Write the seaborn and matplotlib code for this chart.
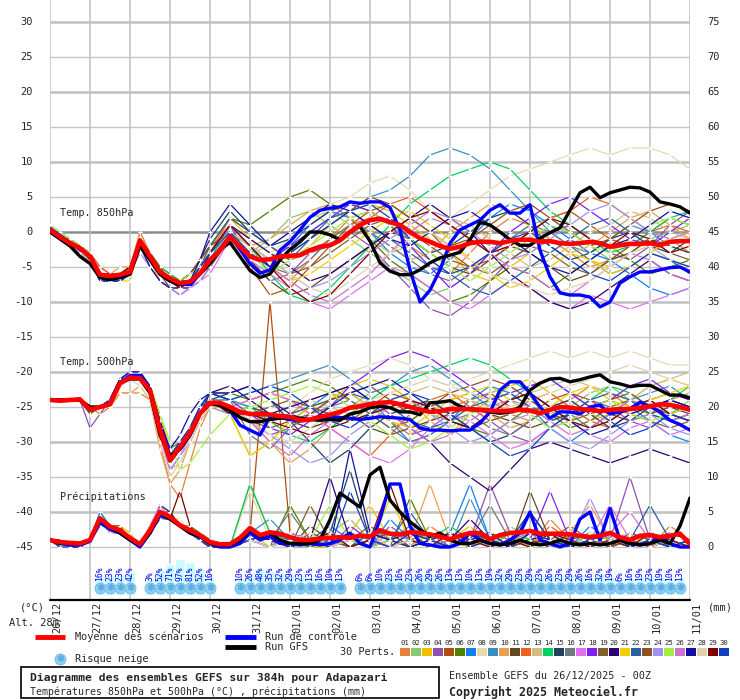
import pandas as pd
import numpy as np
import matplotlib
matplotlib.use("Agg")
import matplotlib.pyplot as plt
import seaborn as sns
from matplotlib.patches import Rectangle


# time axes (hours after 26/12 00Z)
hours = list(range(0, 385, 6))
hours_m = list(range(0, 97, 6)) + list(range(108, 385, 12))

date_labels = ['26/12', '27/12', '28/12', '29/12', '30/12', '31/12', '01/01', '02/01', '03/01',
               '04/01', '05/01', '06/01', '07/01', '08/01', '09/01', '10/01', '11/01']

pert_colors = ['#e8803a', '#88c870', '#f0c000', '#9050b0', '#b05010', '#508000', '#1080f0', '#e8d8b0',
               '#3890c0', '#e8a050', '#604820', '#f06020', '#d0c080', '#00d060', '#204060', '#707880',
               '#e070f0', '#8020f0', '#806030', '#300070', '#f0d000', '#2860a0', '#905020', '#a090f0',
               '#a0f040', '#d070d0', '#1010a0', '#e0d0b0', '#800000', '#1040c0']

# mean / control / GFS, every 6h
mean_850 = [0.3, -0.7, -1.6, -2.3, -3.5, -6.1, -6.3, -6.1, -5.7, -1.2,
            -3.5, -5.7, -6.6, -7.3, -7.1, -5.9, -4.0, -2.6, -0.7, -2.1,
            -3.5, -4.0, -3.9, -3.5, -3.4, -3.3, -2.6, -2.1, -1.9, -1.2,
            0.0, 1.0, 1.7, 1.9, 1.4, 1.0, 0.0, -0.9, -1.4, -2.0,
            -2.4, -2.1, -1.6, -1.4, -1.4, -1.6, -1.3, -1.1, -1.1, -1.4,
            -1.3, -1.6, -1.7, -1.6, -1.4, -1.6, -2.1, -1.9, -1.7, -1.7,
            -1.6, -1.9, -1.4, -1.3, -1.3]
ctrl_850 = [0.5, -0.5, -1.5, -2.5, -3.5, -6.5, -6.8, -6.5, -6.0, -1.5,
            -3.8, -6.0, -7.0, -7.5, -7.5, -6.0, -4.0, -2.5, -0.5, -2.5,
            -4.5, -5.9, -5.4, -2.6, -1.4, 0.3, 2.1, 3.1, 3.4, 3.6,
            4.3, 4.1, 4.3, 4.3, 3.5, 0.3, -5.4, -10.0, -8.3, -5.4,
            -1.6, 0.3, 1.0, 1.7, 3.1, 3.9, 2.7, 2.7, 3.9, -2.6,
            -6.4, -8.7, -9.0, -9.0, -9.3, -10.7, -10.0, -7.3, -6.4, -5.7,
            -5.7, -5.4, -5.1, -5.0, -5.7]
gfs_850 = [0.0, -1.0, -2.0, -3.5, -4.5, -6.5, -6.8, -6.5, -6.0, -2.0,
           -4.0, -6.0, -7.0, -7.5, -7.0, -6.0, -4.5, -2.5, -1.5, -3.5,
           -5.5, -6.5, -6.0, -4.0, -2.5, -1.4, 0.0, 0.0, -0.4, -1.1,
           0.0, 0.8, -1.3, -4.4, -5.6, -6.1, -6.1, -5.4, -4.4, -3.7,
           -3.3, -2.9, -1.1, 1.4, 1.0, 0.0, -1.1, -1.9, -1.9, -0.9,
           -0.1, 0.6, 3.1, 5.6, 6.4, 4.9, 5.6, 6.0, 6.4, 6.3,
           5.7, 4.3, 4.0, 3.6, 2.7]

mean_500 = [-24.0, -24.1, -24.0, -23.9, -25.4, -25.0, -24.6, -21.6, -20.8, -20.9,
            -22.6, -28.3, -32.6, -30.7, -28.7, -25.9, -24.4, -24.4, -25.0, -25.7,
            -26.0, -26.0, -26.1, -26.3, -26.4, -26.9, -26.8, -26.4, -26.1, -25.7,
            -25.1, -24.9, -24.6, -24.4, -24.3, -24.6, -25.0, -25.4, -25.7, -25.6,
            -25.3, -25.3, -25.3, -25.4, -25.5, -25.6, -25.5, -25.4, -25.5, -25.9,
            -25.4, -25.0, -25.1, -25.3, -25.4, -25.6, -25.4, -25.3, -25.3, -25.1,
            -24.9, -24.6, -24.7, -25.0, -25.4]
ctrl_500 = [-24.0, -24.0, -24.0, -24.0, -25.5, -25.0, -24.5, -21.5, -20.5, -20.5,
            -22.5, -28.0, -32.0, -31.0, -29.0, -26.0, -24.5, -24.5, -25.5, -27.6,
            -28.3, -29.0, -26.4, -26.5, -26.8, -27.0, -26.8, -26.5, -26.4, -26.5,
            -26.6, -26.8, -26.6, -26.4, -26.5, -26.6, -26.8, -28.0, -28.3, -28.3,
            -28.4, -28.3, -28.3, -27.3, -25.7, -22.6, -21.4, -21.4, -23.0, -25.0,
            -26.6, -25.7, -25.7, -26.0, -25.0, -24.7, -26.0, -25.7, -25.3, -24.3,
            -24.9, -25.7, -26.9, -27.5, -28.3]
gfs_500 = [-24.0, -24.0, -24.0, -24.0, -25.0, -25.0, -24.5, -21.5, -21.0, -21.0,
           -23.0, -29.0, -32.0, -31.0, -29.0, -26.0, -24.5, -24.8, -25.5, -26.5,
           -27.1, -27.1, -26.8, -26.6, -26.5, -26.6, -26.8, -26.9, -26.8, -26.9,
           -26.0, -25.7, -25.1, -24.9, -25.1, -25.7, -25.7, -26.1, -24.4, -24.3,
           -24.1, -24.9, -25.4, -25.4, -25.7, -25.9, -25.7, -25.0, -22.6, -21.6,
           -21.0, -20.9, -21.4, -21.1, -20.7, -20.4, -21.4, -21.7, -22.1, -21.9,
           -21.9, -22.6, -23.3, -23.3, -23.7]

mean_pr = [1.0, 0.7, 0.6, 0.5, 1.0, 4.1, 2.9, 2.4, 1.3, 0.4,
           2.4, 5.0, 4.3, 3.1, 2.4, 1.7, 0.7, 0.4, 0.4, 1.3,
           2.7, 1.7, 2.1, 1.9, 1.4, 1.0, 1.0, 1.2, 1.3, 1.4,
           1.3, 1.6, 1.5, 2.4, 1.9, 1.8, 2.1, 2.0, 1.8, 1.5,
           1.1, 1.6, 2.0, 2.0, 1.1, 1.7, 2.0, 2.1, 2.3, 1.9,
           1.9, 1.9, 1.8, 1.6, 1.4, 1.6, 2.0, 1.4, 1.0, 1.6,
           1.7, 1.4, 1.6, 1.9, 0.4]
ctrl_pr = [1.0, 0.5, 0.3, 0.3, 0.8, 3.5, 2.5, 2.0, 1.0, 0.0,
           2.0, 4.5, 4.0, 3.0, 2.0, 1.5, 0.5, 0.0, 0.0, 0.5,
           2.0, 1.0, 1.5, 0.5, 0.5, 0.3, 0.5, 0.3, 0.5, 1.0,
           2.0, 0.5, 0.0, 4.0, 9.0, 9.0, 3.0, 0.5, 0.3, 0.0,
           0.0, 0.5, 2.0, 1.0, 0.5, 0.3, 1.0, 2.0, 5.0, 1.0,
           0.5, 0.0, 0.5, 4.0, 5.0, 1.0, 5.5, 1.0, 0.5, 0.3,
           0.5, 1.5, 0.5, 0.0, 0.0]
gfs_pr = [1.0, 0.5, 0.5, 0.5, 1.0, 4.0, 3.0, 2.0, 1.0, 0.3,
          2.0, 5.0, 4.0, 3.0, 2.0, 1.5, 0.5, 0.3, 0.3, 1.0,
          2.5, 1.5, 2.0, 1.0, 0.5, 0.5, 0.5, 1.0, 3.9, 7.7,
          6.7, 5.7, 10.3, 11.4, 6.7, 5.0, 3.6, 2.5, 1.5, 2.0,
          1.0, 0.5, 0.5, 1.0, 0.5, 0.3, 0.5, 1.0, 0.5, 0.3,
          0.5, 1.0, 0.5, 0.3, 0.5, 0.3, 0.5, 1.0, 0.5, 0.3,
          0.5, 1.0, 0.5, 3.0, 7.0]

# 30 perturbations: 6h steps up to 96h, then 12h steps
t850_early = [
    [0, -1, -2, -3, -4, -6, -6, -6, -5, -1, -3, -5, -6, -7, -6, -5, -3],
    [1, 0, -1, -2, -3, -6, -7, -6, -6, -2, -4, -6, -7, -8, -7, -5, -4],
    [0, -1, -2, -2, -4, -6, -6, -7, -6, -1, -4, -6, -7, -7, -6, -4, -2],
    [0, -1, -1, -2, -3, -5, -6, -6, -5, -2, -4, -7, -8, -9, -8, -6, -5],
    [0, -1, -2, -3, -4, -6, -6, -6, -6, 0, -3, -5, -6, -7, -6, -5, -3],
    [0, -1, -2, -2, -4, -6, -7, -7, -6, -1, -4, -6, -7, -8, -7, -5, -2],
    [0, -1, -2, -2, -4, -7, -7, -7, -6, -1, -4, -6, -7, -7, -7, -6, -3],
    [0, -1, -2, -3, -4, -6, -6, -6, -6, -2, -4, -6, -7, -7, -6, -4, -2],
    [0, -1, -2, -2, -3, -6, -6, -6, -5, -1, -3, -6, -7, -7, -7, -5, -3],
    [1, -1, -2, -2, -4, -6, -6, -5, -5, 0, -3, -5, -7, -7, -6, -4, -2],
    [0, -1, -2, -3, -4, -6, -7, -7, -6, -1, -4, -6, -8, -8, -8, -7, -5],
    [0, -1, -2, -2, -3, -5, -6, -6, -6, -1, -4, -6, -7, -7, -6, -5, -3],
    [0, -1, -2, -3, -4, -6, -6, -6, -6, -2, -5, -7, -8, -8, -7, -6, -4],
    [0, -1, -2, -2, -4, -6, -6, -6, -5, -1, -3, -5, -6, -7, -7, -6, -4],
    [0, -1, -1, -2, -4, -6, -6, -6, -6, -1, -4, -6, -7, -7, -6, -4, -1],
    [0, -1, -2, -2, -4, -6, -6, -6, -6, -1, -4, -6, -7, -8, -7, -5, -2],
    [0, -1, -2, -3, -4, -6, -6, -6, -6, -2, -5, -7, -8, -9, -8, -7, -6],
    [0, -1, -2, -2, -4, -6, -6, -6, -6, -1, -4, -6, -7, -8, -8, -6, -3],
    [0, -1, -2, -3, -4, -6, -6, -6, -5, -1, -4, -6, -7, -7, -7, -5, -3],
    [0, -1, -2, -2, -4, -6, -7, -7, -6, -1, -4, -6, -7, -8, -7, -6, -3],
    [0, -1, -2, -2, -4, -7, -7, -7, -7, -2, -4, -7, -8, -8, -7, -6, -4],
    [0, -1, -2, -2, -4, -6, -6, -6, -6, -1, -4, -6, -7, -7, -6, -4, -2],
    [0, -1, -2, -3, -4, -6, -6, -6, -5, -1, -3, -5, -7, -7, -6, -4, -2],
    [0, -1, -2, -2, -4, -6, -6, -6, -6, -3, -5, -7, -8, -9, -8, -7, -5],
    [1, 0, -1, -2, -3, -6, -6, -6, -6, -1, -4, -6, -7, -7, -6, -5, -3],
    [0, -1, -2, -2, -4, -6, -6, -6, -6, -1, -4, -6, -7, -8, -7, -6, -4],
    [0, -1, -2, -2, -4, -7, -7, -7, -6, -2, -5, -7, -8, -8, -7, -4, 0],
    [0, -1, -2, -3, -4, -6, -6, -6, -6, -1, -4, -6, -7, -7, -7, -5, -3],
    [0, -1, -2, -2, -4, -6, -6, -6, -5, -1, -4, -6, -7, -8, -7, -5, -3],
    [0, -1, -2, -2, -4, -7, -7, -7, -6, -1, -4, -6, -7, -7, -7, -5, -3],
]
t850_late = [
    [1, -2, -5, -7, -4, -1, 2, 3, 1, -2, -4, -6, -3, 0, 2, 1, -1, -3, -5, -4, -2, 0, -1, -3],
    [0, -3, -1, 2, 3, 1, -1, -3, -5, -7, -9, -8, -6, -3, -1, 1, 2, 0, -2, -4, -3, -1, 0, 1],
    [2, -1, -3, -4, -2, 1, 3, 4, 3, 1, -1, -3, -6, -7, -5, -3, -1, -2, -4, -5, -3, -2, -1, 0],
    [1, -4, -7, -6, -3, -2, 0, -2, -5, -8, -11, -12, -10, -7, -4, -2, 0, 1, -1, -3, -4, -2, 1, 3],
    [0, -5, -9, -8, -5, -2, 1, 3, 4, 2, 0, -3, -5, -4, -2, 0, 2, 3, 1, -1, -2, 0, 2, 1],
    [2, 1, 3, 5, 6, 4, 2, -1, -4, -6, -8, -10, -9, -7, -5, -6, -8, -6, -4, -2, -4, -6, -5, -4],
    [0, -2, -4, -2, 1, 3, 2, 0, -3, -5, -6, -4, -1, 2, 4, 3, 1, -1, -3, -4, -6, -8, -9, -8],
    [1, -1, -3, -1, 2, 4, 5, 7, 8, 6, 3, 2, 4, 6, 8, 9, 10, 11, 12, 11, 12, 12, 11, 9],
    [-1, -3, -5, -3, 0, 2, 3, 5, 6, 8, 11, 12, 11, 9, 6, 3, 0, -2, -3, -1, 1, 0, -2, -3],
    [1, -2, -1, 1, 3, 4, 2, 0, -2, -4, -3, 0, 2, 4, 3, 1, -1, -3, -2, 0, 2, 3, 1, -1],
    [-1, -4, -7, -9, -8, -6, -4, -2, 0, -1, -3, -5, -6, -4, -2, -3, -5, -7, -6, -4, -3, -1, -2, -3],
    [2, 0, -2, -4, -3, -1, 1, 2, 4, 5, 3, 1, -1, -3, -2, 0, 2, 3, 5, 4, 2, 0, 1, 0],
    [0, -3, -2, 0, 2, 3, 1, -1, -3, -2, 0, 2, 1, -1, -3, -5, -4, -2, 0, 1, 3, 2, 0, -1],
    [1, -2, -6, -9, -10, -8, -5, -2, 1, 4, 6, 8, 9, 10, 9, 6, 3, 1, -1, -3, -2, 0, 2, 3],
    [3, 0, -2, -1, 1, 3, 4, 3, 1, -1, -3, -2, 0, 2, 3, 1, -2, -4, -3, -1, 0, -2, -3, -1],
    [0, -3, -5, -6, -4, -1, 1, 0, -2, -4, -6, -7, -5, -3, -1, 1, 0, -2, -4, -6, -5, -3, -4, -5],
    [-1, -4, -6, -8, -10, -11, -9, -7, -5, -6, -8, -10, -11, -9, -7, -8, -10, -11, -9, -10, -11, -10, -9, -8],
    [1, -2, -4, -2, 0, 2, 4, 3, 1, -2, -5, -8, -6, -3, 0, 2, 4, 5, 3, 1, -1, -2, 0, 2],
    [0, -2, -4, -6, -5, -3, -1, 1, 2, 0, -2, -4, -5, -6, -4, -2, -3, -5, -6, -4, -2, -1, -3, -4],
    [1, -1, -3, -5, -7, -6, -4, -2, 0, 2, 4, 2, 0, -3, -6, -8, -10, -11, -10, -8, -6, -4, -6, -7],
    [0, -3, -5, -7, -6, -4, -2, 0, 2, 3, 1, -1, -4, -6, -8, -7, -5, -3, -4, -6, -5, -3, -1, 0],
    [2, 0, -2, -4, -1, 2, 3, 1, -1, -3, -5, -6, -8, -9, -7, -5, -3, -1, 1, 2, 0, -2, -4, -6],
    [0, -2, -5, -3, -1, 1, 3, 5, 4, 2, 0, -2, -1, 1, 3, 4, 2, 0, -2, -1, 1, 3, 4, 3],
    [1, -2, -4, -6, -8, -7, -5, -3, -1, 1, 3, 2, 0, -2, -4, -3, -1, 1, 3, 4, 2, 0, -1, 0],
    [0, -3, -6, -4, -2, 0, 2, 3, 1, -1, -3, -5, -7, -5, -3, -1, 1, 0, -2, -3, -1, 1, 2, 1],
    [-1, -3, -5, -7, -9, -10, -8, -6, -3, 0, 2, 1, -1, -3, -5, -6, -8, -9, -7, -5, -3, -4, -6, -7],
    [4, 1, -2, 0, 2, 4, 3, 1, -1, -2, 0, 2, 3, 1, -1, -3, -5, -6, -4, -2, -1, 1, 3, 2],
    [0, -2, -4, -6, -8, -9, -7, -5, -3, -1, 0, -2, -4, -6, -7, -8, -9, -8, -7, -5, -3, -2, -4, -5],
    [1, -2, -5, -8, -10, -9, -6, -3, 0, 2, 3, 1, -1, -3, -2, 0, 2, 1, -1, -2, 0, -1, -3, -2],
    [0, -3, -5, -3, -1, 1, 3, 4, 2, -1, -4, -6, -5, -3, -1, 0, -2, -4, -6, -7, -5, -3, -4, -5],
]

t500_early = [
    [-24, -24, -24, -24, -25, -26, -25, -23, -23, -23, -24, -30, -36, -38, -33, -28, -25],
    [-24, -24, -24, -24, -26, -25, -24, -21, -21, -21, -23, -27, -32, -30, -28, -26, -24],
    [-24, -24, -24, -24, -25, -25, -24, -21, -21, -21, -22, -26, -31, -30, -28, -26, -24],
    [-24, -24, -24, -24, -28, -26, -24, -21, -20, -20, -22, -29, -33, -31, -29, -26, -24],
    [-24, -24, -24, -24, -25, -25, -24, -21, -21, -21, -22, -27, -32, -31, -29, -26, -24],
    [-24, -24, -24, -24, -26, -25, -24, -21, -21, -21, -23, -28, -32, -30, -28, -25, -23],
    [-24, -24, -24, -24, -25, -25, -24, -21, -20, -20, -22, -28, -33, -31, -28, -25, -23],
    [-24, -24, -24, -24, -25, -25, -24, -22, -21, -21, -23, -29, -34, -32, -29, -26, -24],
    [-24, -24, -24, -24, -25, -25, -24, -21, -21, -21, -23, -28, -33, -31, -28, -25, -24],
    [-24, -24, -24, -24, -25, -25, -25, -23, -23, -22, -24, -31, -36, -34, -30, -27, -25],
    [-24, -24, -24, -24, -25, -25, -24, -21, -21, -21, -22, -27, -32, -31, -29, -26, -24],
    [-24, -24, -24, -24, -25, -25, -24, -21, -21, -21, -23, -28, -33, -31, -29, -26, -24],
    [-24, -24, -24, -24, -25, -25, -24, -22, -21, -21, -23, -29, -34, -33, -30, -27, -25],
    [-24, -24, -24, -24, -25, -25, -24, -21, -21, -21, -22, -27, -32, -31, -28, -25, -23],
    [-24, -24, -24, -24, -25, -25, -24, -21, -21, -21, -23, -28, -33, -31, -28, -25, -24],
    [-24, -24, -24, -24, -25, -25, -24, -21, -21, -21, -22, -27, -31, -30, -28, -25, -23],
    [-24, -24, -24, -24, -25, -25, -24, -21, -20, -20, -22, -29, -34, -32, -29, -26, -24],
    [-24, -24, -24, -24, -25, -25, -24, -21, -21, -21, -22, -27, -32, -30, -28, -25, -23],
    [-24, -24, -24, -24, -25, -25, -24, -21, -21, -21, -23, -28, -33, -31, -29, -26, -24],
    [-24, -24, -24, -24, -25, -25, -24, -21, -21, -21, -22, -28, -33, -31, -29, -26, -23],
    [-24, -24, -24, -24, -25, -25, -24, -21, -21, -21, -23, -28, -33, -31, -29, -27, -25],
    [-24, -24, -24, -24, -25, -25, -24, -21, -21, -21, -23, -28, -33, -31, -28, -25, -24],
    [-24, -24, -24, -24, -25, -25, -24, -21, -21, -21, -22, -28, -33, -31, -29, -26, -24],
    [-24, -24, -24, -24, -25, -25, -24, -22, -21, -21, -23, -29, -34, -32, -30, -27, -25],
    [-24, -24, -24, -24, -25, -25, -24, -21, -21, -21, -22, -26, -30, -34, -33, -31, -29],
    [-24, -24, -24, -24, -25, -25, -24, -21, -21, -21, -23, -28, -33, -31, -29, -26, -24],
    [-24, -24, -24, -24, -25, -25, -24, -21, -20, -20, -22, -27, -31, -29, -26, -24, -23],
    [-24, -24, -24, -24, -25, -25, -24, -22, -21, -22, -24, -30, -35, -33, -30, -27, -25],
    [-24, -24, -24, -24, -25, -25, -24, -21, -21, -21, -23, -28, -33, -31, -29, -26, -24],
    [-24, -24, -24, -24, -25, -25, -24, -21, -21, -21, -23, -28, -32, -30, -28, -25, -23],
]
t500_late = [
    [-25, -26, -27, -26, -24, -23, -24, -26, -28, -27, -25, -24, -23, -24, -26, -27, -25, -24, -22, -23, -25, -26, -24, -23],
    [-24, -25, -26, -27, -28, -27, -25, -23, -22, -24, -26, -27, -25, -23, -22, -24, -26, -25, -23, -22, -24, -25, -26, -24],
    [-26, -32, -30, -27, -25, -24, -22, -21, -22, -24, -27, -29, -26, -24, -22, -21, -23, -25, -27, -26, -24, -22, -21, -22],
    [-25, -27, -29, -28, -26, -24, -23, -25, -27, -29, -28, -26, -25, -27, -29, -30, -28, -26, -24, -25, -27, -28, -26, -27],
    [-25, -26, -27, -26, -25, -26, -27, -25, -23, -24, -26, -25, -24, -23, -25, -26, -24, -23, -24, -26, -25, -24, -23, -24],
    [-23, -24, -23, -22, -21, -22, -24, -26, -28, -27, -25, -26, -28, -29, -27, -25, -26, -28, -27, -25, -24, -26, -27, -26],
    [-24, -25, -26, -27, -25, -23, -22, -24, -27, -30, -29, -27, -24, -22, -23, -25, -28, -30, -28, -26, -25, -27, -29, -30],
    [-25, -26, -27, -25, -23, -21, -20, -19, -18, -19, -21, -22, -21, -20, -19, -18, -17, -18, -17, -18, -17, -18, -19, -19],
    [-24, -23, -22, -21, -20, -19, -21, -23, -22, -20, -19, -21, -23, -25, -24, -22, -21, -23, -25, -26, -24, -23, -22, -24],
    [-25, -27, -30, -33, -31, -28, -26, -25, -27, -29, -27, -25, -24, -26, -28, -27, -25, -24, -26, -27, -25, -24, -26, -27],
    [-26, -25, -26, -27, -28, -27, -26, -28, -29, -28, -27, -26, -25, -26, -27, -28, -27, -26, -25, -26, -27, -26, -25, -26],
    [-25, -24, -23, -24, -26, -28, -30, -32, -29, -26, -24, -23, -25, -27, -26, -24, -23, -25, -27, -28, -26, -25, -24, -25],
    [-26, -27, -26, -25, -24, -25, -26, -25, -24, -23, -22, -23, -24, -25, -24, -23, -22, -21, -22, -23, -24, -22, -21, -20],
    [-24, -25, -27, -29, -30, -28, -26, -24, -22, -21, -20, -19, -18, -19, -21, -23, -25, -26, -24, -22, -23, -25, -24, -22],
    [-23, -22, -24, -27, -30, -33, -31, -28, -26, -25, -24, -26, -28, -30, -29, -27, -25, -24, -26, -28, -27, -25, -24, -25],
    [-24, -29, -31, -28, -26, -25, -24, -26, -28, -30, -29, -27, -26, -28, -29, -27, -25, -26, -28, -27, -25, -24, -26, -27],
    [-25, -24, -23, -24, -26, -28, -30, -32, -33, -31, -28, -26, -27, -29, -31, -30, -28, -27, -29, -30, -28, -27, -29, -28],
    [-24, -26, -28, -29, -27, -25, -22, -20, -18, -17, -18, -20, -22, -24, -23, -22, -21, -23, -25, -24, -22, -21, -23, -24],
    [-25, -26, -25, -24, -25, -26, -27, -26, -25, -24, -25, -27, -28, -27, -26, -25, -26, -27, -26, -25, -26, -27, -28, -27],
    [-22, -24, -26, -25, -24, -23, -22, -24, -26, -28, -30, -33, -35, -37, -34, -31, -30, -31, -32, -33, -32, -31, -32, -33],
    [-26, -32, -30, -27, -25, -24, -23, -25, -27, -28, -26, -24, -23, -22, -24, -26, -25, -23, -22, -24, -25, -24, -23, -22],
    [-25, -26, -27, -26, -25, -24, -23, -24, -25, -27, -28, -27, -25, -24, -23, -25, -27, -26, -24, -23, -24, -26, -27, -26],
    [-25, -27, -28, -27, -26, -24, -23, -22, -24, -26, -25, -23, -22, -21, -22, -24, -26, -27, -25, -24, -23, -25, -26, -25],
    [-26, -27, -29, -31, -33, -32, -29, -27, -25, -24, -26, -28, -30, -29, -27, -26, -28, -30, -31, -29, -27, -26, -28, -29],
    [-26, -25, -24, -23, -22, -23, -25, -27, -29, -31, -30, -28, -26, -25, -24, -26, -28, -27, -25, -24, -26, -27, -26, -25],
    [-25, -27, -30, -32, -29, -27, -25, -24, -26, -28, -30, -29, -27, -25, -24, -25, -27, -29, -28, -26, -24, -25, -27, -26],
    [-23, -22, -24, -26, -27, -25, -23, -22, -21, -23, -25, -27, -28, -26, -24, -23, -25, -27, -29, -28, -26, -25, -24, -25],
    [-25, -27, -29, -30, -28, -26, -25, -24, -23, -22, -21, -22, -23, -24, -25, -24, -23, -22, -21, -20, -19, -20, -21, -22],
    [-26, -26, -27, -28, -29, -28, -27, -26, -25, -24, -25, -27, -28, -26, -24, -23, -25, -27, -28, -27, -25, -24, -26, -27],
    [-24, -23, -22, -23, -25, -27, -28, -26, -24, -23, -24, -26, -28, -30, -32, -31, -28, -26, -25, -27, -29, -28, -26, -27],
]

pr_early = [
    [1, 1, 0, 0, 1, 4, 3, 2, 1, 0, 2, 5, 4, 3, 2, 1, 0],
    [1, 0, 0, 0, 1, 5, 3, 2, 1, 0, 3, 6, 4, 3, 2, 1, 0],
    [1, 1, 0, 0, 1, 3, 3, 3, 2, 0, 2, 5, 5, 3, 2, 2, 1],
    [1, 0, 0, 0, 1, 4, 2, 2, 1, 0, 2, 6, 5, 3, 2, 1, 0],
    [1, 1, 0, 0, 1, 4, 3, 2, 1, 0, 3, 5, 4, 3, 2, 1, 0],
    [1, 0, 0, 0, 1, 4, 3, 2, 1, 0, 2, 4, 4, 3, 3, 2, 1],
    [1, 1, 0, 0, 1, 5, 3, 2, 1, 0, 2, 5, 4, 3, 2, 1, 0],
    [1, 0, 0, 0, 1, 4, 3, 2, 1, 0, 2, 5, 4, 4, 2, 1, 1],
    [1, 1, 0, 0, 1, 3, 3, 2, 1, 0, 2, 5, 4, 3, 2, 1, 0],
    [1, 0, 0, 0, 1, 4, 3, 2, 1, 0, 2, 5, 4, 3, 2, 1, 0],
    [1, 1, 0, 0, 1, 4, 3, 3, 1, 0, 2, 5, 5, 3, 2, 1, 0],
    [1, 0, 0, 0, 1, 4, 3, 2, 1, 0, 2, 5, 4, 3, 2, 1, 0],
    [1, 1, 0, 0, 1, 4, 2, 2, 1, 0, 2, 5, 4, 3, 2, 1, 1],
    [1, 0, 0, 0, 1, 4, 3, 2, 1, 0, 2, 5, 4, 3, 2, 1, 0],
    [1, 1, 0, 0, 1, 4, 3, 2, 1, 0, 2, 6, 5, 3, 2, 1, 0],
    [1, 0, 0, 0, 1, 4, 3, 2, 1, 0, 2, 5, 4, 3, 2, 1, 0],
    [1, 1, 0, 0, 1, 4, 3, 2, 1, 0, 3, 6, 4, 3, 2, 1, 0],
    [1, 0, 0, 0, 1, 4, 3, 2, 1, 0, 2, 5, 4, 3, 2, 1, 0],
    [1, 1, 0, 0, 1, 4, 3, 2, 1, 0, 2, 5, 4, 3, 2, 1, 0],
    [1, 0, 0, 0, 1, 4, 3, 2, 1, 0, 2, 5, 4, 3, 2, 1, 0],
    [1, 1, 0, 0, 1, 4, 3, 2, 1, 0, 2, 5, 4, 3, 2, 1, 0],
    [1, 0, 0, 0, 1, 4, 3, 2, 1, 0, 2, 5, 4, 3, 2, 1, 0],
    [1, 1, 0, 0, 1, 4, 3, 2, 1, 0, 2, 5, 4, 3, 2, 1, 0],
    [1, 0, 0, 0, 1, 4, 3, 2, 1, 0, 2, 5, 4, 3, 2, 1, 0],
    [1, 1, 0, 0, 1, 4, 3, 2, 1, 0, 2, 5, 4, 3, 2, 1, 0],
    [1, 0, 0, 0, 1, 4, 3, 2, 1, 0, 2, 5, 4, 3, 2, 1, 0],
    [1, 1, 0, 0, 1, 4, 3, 2, 1, 0, 2, 5, 4, 3, 2, 1, 0],
    [1, 0, 0, 0, 1, 4, 3, 2, 1, 0, 2, 5, 4, 3, 2, 1, 0],
    [1, 1, 0, 0, 1, 4, 3, 2, 1, 0, 2, 5, 4, 8, 3, 1, 0],
    [1, 0, 0, 0, 1, 4, 3, 2, 1, 0, 2, 5, 4, 3, 2, 1, 0],
]
pr_late = [
    [0, 9, 2, 1, 0, 1, 0, 2, 1, 0, 3, 1, 0, 2, 1, 0, 4, 1, 0, 2, 1, 0, 3, 1],
    [0, 2, 1, 0, 0, 2, 4, 1, 0, 1, 2, 0, 1, 0, 3, 1, 0, 2, 0, 1, 0, 2, 1, 0],
    [0, 3, 1, 1, 0, 0, 2, 6, 1, 0, 2, 1, 3, 0, 1, 2, 0, 1, 0, 2, 1, 0, 1, 0],
    [0, 1, 2, 0, 1, 0, 1, 0, 3, 1, 0, 2, 1, 9, 2, 0, 1, 0, 2, 1, 10, 1, 0, 1],
    [0, 2, 35, 2, 1, 0, 1, 3, 1, 0, 2, 1, 0, 1, 2, 0, 1, 3, 1, 0, 1, 0, 2, 1],
    [0, 1, 0, 6, 1, 0, 2, 1, 0, 7, 1, 0, 1, 2, 0, 1, 0, 2, 1, 0, 1, 2, 0, 1],
    [0, 2, 1, 0, 1, 3, 1, 0, 4, 1, 0, 2, 9, 1, 0, 2, 1, 0, 3, 1, 0, 2, 1, 0],
    [0, 8, 1, 2, 0, 1, 0, 1, 2, 0, 1, 0, 2, 1, 0, 1, 0, 2, 1, 0, 1, 0, 1, 0],
    [0, 2, 4, 1, 0, 1, 2, 0, 1, 3, 1, 0, 7, 1, 0, 2, 1, 0, 1, 0, 2, 1, 0, 1],
    [0, 1, 2, 0, 1, 0, 2, 1, 0, 1, 9, 1, 0, 2, 1, 0, 1, 2, 6, 1, 0, 1, 0, 1],
    [0, 2, 1, 0, 3, 1, 0, 1, 2, 0, 1, 0, 2, 1, 0, 8, 1, 0, 1, 0, 2, 1, 0, 1],
    [0, 1, 0, 2, 1, 0, 1, 0, 2, 1, 0, 1, 0, 2, 1, 0, 3, 1, 0, 1, 0, 2, 1, 0],
    [0, 3, 1, 0, 1, 2, 0, 1, 0, 2, 1, 0, 1, 0, 2, 1, 0, 1, 0, 2, 1, 0, 1, 0],
    [0, 9, 2, 1, 0, 1, 0, 2, 1, 0, 1, 3, 1, 0, 2, 1, 0, 1, 0, 2, 0, 1, 0, 1],
    [0, 1, 0, 1, 0, 2, 11, 1, 0, 1, 0, 2, 1, 0, 1, 5, 1, 0, 2, 1, 0, 1, 0, 1],
    [0, 2, 1, 5, 1, 0, 2, 1, 0, 1, 2, 0, 1, 6, 1, 0, 2, 1, 0, 1, 0, 2, 1, 0],
    [0, 2, 1, 0, 1, 0, 1, 2, 1, 0, 1, 2, 0, 1, 0, 2, 1, 0, 1, 6, 1, 0, 1, 0],
    [0, 1, 0, 2, 1, 0, 3, 1, 0, 2, 1, 0, 1, 2, 0, 1, 8, 1, 0, 1, 2, 0, 1, 0],
    [0, 2, 1, 0, 6, 1, 0, 1, 2, 0, 1, 0, 2, 1, 0, 1, 2, 0, 1, 0, 1, 2, 0, 1],
    [0, 1, 2, 0, 1, 10, 1, 0, 1, 2, 0, 1, 4, 1, 0, 1, 2, 0, 1, 2, 0, 1, 2, 1],
    [0, 2, 0, 1, 0, 2, 1, 0, 7, 1, 0, 2, 1, 0, 1, 0, 2, 1, 0, 1, 0, 2, 1, 0],
    [0, 1, 2, 1, 0, 1, 0, 2, 1, 5, 1, 0, 2, 1, 0, 1, 0, 2, 1, 0, 1, 6, 1, 0],
    [0, 2, 1, 0, 2, 1, 0, 1, 0, 2, 1, 0, 1, 2, 0, 1, 0, 1, 2, 0, 1, 0, 1, 0],
    [0, 1, 0, 2, 1, 0, 1, 0, 2, 1, 0, 1, 2, 0, 1, 0, 2, 1, 7, 1, 0, 1, 0, 1],
    [0, 2, 1, 0, 1, 6, 1, 0, 1, 0, 2, 1, 0, 1, 2, 0, 1, 0, 2, 1, 0, 1, 0, 1],
    [0, 1, 2, 0, 1, 0, 2, 1, 0, 1, 0, 2, 1, 0, 1, 2, 0, 1, 0, 2, 5, 1, 0, 1],
    [0, 2, 1, 0, 1, 0, 14, 2, 1, 0, 1, 2, 0, 1, 0, 2, 1, 0, 1, 2, 0, 1, 0, 1],
    [0, 1, 0, 1, 2, 0, 1, 2, 0, 1, 0, 2, 1, 0, 1, 0, 2, 1, 0, 1, 2, 0, 1, 0],
    [0, 2, 1, 0, 1, 2, 0, 1, 9, 1, 0, 2, 1, 0, 1, 0, 2, 1, 0, 1, 0, 2, 1, 0],
    [0, 1, 2, 0, 1, 0, 8, 1, 0, 2, 1, 0, 1, 2, 0, 5, 1, 0, 1, 2, 0, 1, 0, 1],
]

# snow risk (%), by forecast hour
snow_hours = [30, 36, 42, 48, 60, 66, 72, 78, 84, 90, 96] + list(range(114, 175, 6)) + list(range(186, 379, 6))
snow_pct = [16, 23, 23, 42, 3, 52, 71, 97, 81, 52, 16,
            10, 26, 48, 35, 32, 29, 23, 13, 16, 10, 13,
            6, 6, 10, 23, 16, 23, 26, 29, 26, 13, 13, 10, 13, 19, 32, 29, 23,
            29, 23, 26, 23, 29, 26, 16, 32, 19, 6, 16, 19, 23, 19, 10, 13]

for block in (t850_early, t500_early, pr_early):
    assert len(block) == 30 and all(len(r) == 17 for r in block)
for block in (t850_late, t500_late, pr_late):
    assert len(block) == 30 and all(len(r) == 24 for r in block)
for s in (mean_850, ctrl_850, gfs_850, mean_500, ctrl_500, gfs_500, mean_pr, ctrl_pr, gfs_pr):
    assert len(s) == 65
assert len(snow_hours) == len(snow_pct)


sns.set_style('white')
plt.rcParams['font.family'] = ['DejaVu Sans Mono', 'DejaVu Sans']

PR0 = -45  # precipitation zero sits on the -45 line


def yv(py):
    # pixel row of the original picture -> temperature units
    return (232 - py) / 7.0


fig = plt.figure(figsize=(7.4, 7.0), dpi=100)
ax = fig.add_axes([50 / 740, 100 / 700, 640 / 740, 600 / 700])
ax.set_xlim(0, 16)
ax.set_ylim(yv(600), yv(0))
ax.axis('off')

for v in range(-45, 31, 5):
    if v == 0:
        ax.hlines(v, 0, 16, color='#8c8c8c', lw=1.8, zorder=0)
    elif v % 10 == 0:
        ax.hlines(v, 0, 16, color='#c0c0c0', lw=1.8, zorder=0)
    else:
        ax.hlines(v, 0, 16, color='#c4c4c4', lw=1.0, zorder=0)
for d in range(17):
    ax.vlines(d, yv(600), yv(0), color='#c0c0c0', lw=1.1, zorder=0)

# members
rows = []
for i in range(30):
    mid = f'{i + 1:02d}'
    for var, early, late, off in (('t850', t850_early, t850_late, 0),
                                  ('t500', t500_early, t500_late, 0),
                                  ('pr', pr_early, pr_late, PR0)):
        for h, v in zip(hours_m, early[i] + late[i]):
            rows.append((h / 24, v + off, mid, var))
df_m = pd.DataFrame(rows, columns=['day', 'value', 'member', 'var'])
pal = {f'{i + 1:02d}': c for i, c in enumerate(pert_colors)}
sns.lineplot(data=df_m, x='day', y='value', hue='member', units='var', estimator=None,
             palette=pal, lw=0.9, marker='+', markersize=3.5, markeredgewidth=0.8,
             sort=False, legend=False, ax=ax, zorder=2)

days = [h / 24 for h in hours]
for series, color, lw, z in ((ctrl_850, '#0000ff', 2.4, 3), (gfs_850, 'black', 2.4, 3),
                             (ctrl_500, '#0000ff', 2.4, 3), (gfs_500, 'black', 2.4, 3),
                             (mean_850, '#ff0000', 3.3, 4), (mean_500, '#ff0000', 3.3, 4)):
    sns.lineplot(x=days, y=series, color=color, lw=lw, ax=ax, zorder=z)
for series, color, lw, z in ((ctrl_pr, '#0000ff', 2.4, 3), (gfs_pr, 'black', 2.4, 3),
                             (mean_pr, '#ff0000', 3.3, 4)):
    sns.lineplot(x=days, y=[p + PR0 for p in series], color=color, lw=lw, ax=ax, zorder=z)

ax.text(10 / 40, yv(213), 'Temp. 850hPa', fontsize=7.3, va='center', zorder=6)
ax.text(10 / 40, yv(362), 'Temp. 500hPa', fontsize=7.3, va='center', zorder=6)
ax.text(10 / 40, yv(497), 'Précipitations', fontsize=7.3, va='center', zorder=6)

# snow risk strip
sx = fig.add_axes([50 / 740, 105 / 700, 640 / 740, 45 / 700])
sx.set_xlim(0, 16)
sx.set_ylim(-68, 136.5)
sx.axis('off')
snow_days = [h / 24 for h in snow_hours]
sx.bar(snow_days, [p + 68 for p in snow_pct], bottom=-68, width=0.25, color='#c8fcff', zorder=1)
sx.scatter(snow_days, [-36] * len(snow_days), s=62, color='#8ccff2', edgecolor='#6ab8e6',
           linewidth=0.6, zorder=2)
for d, p in zip(snow_days, snow_pct):
    sx.text(d, -36, '❄', family='DejaVu Sans', fontsize=7, color='#3f95d8',
            ha='center', va='center', zorder=3)
    sx.text(d, -6, f'{p}%', fontsize=5.8, color='#0000ff', rotation=90,
            ha='center', va='bottom', zorder=3)

# overlay in picture pixels for labels and legend
ov = fig.add_axes([0, 0, 1, 1], zorder=5)
ov.set_xlim(0, 740)
ov.set_ylim(700, 0)
ov.axis('off')
ov.patch.set_alpha(0)

ov.plot([50, 690], [600, 600], color='black', lw=1.6)
for v in range(-45, 31, 5):
    ov.text(33, 232 - 7 * v, str(v), fontsize=7.5, ha='right', va='center')
    ov.text(707, 232 - 7 * v, str(v + 45), fontsize=7.5, ha='left', va='center')
for i, lab in enumerate(date_labels):
    ov.text(50 + 40 * i + 2, 602, lab, fontsize=7.5, rotation=90, ha='left', va='top')

ov.text(20, 607, '(°C)', fontsize=7.5, va='center')
ov.text(708, 607, '(mm)', fontsize=7.5, va='center')
ov.text(9, 623, 'Alt. 28m', fontsize=7.5, va='center')

ov.plot([35, 65], [637, 637], color='#ff0000', lw=3.5, solid_capstyle='butt')
ov.text(75, 637, 'Moyenne des scénarios', fontsize=7.4, va='center')
ov.plot([225, 256], [637, 637], color='#0000ff', lw=3.5, solid_capstyle='butt')
ov.text(265, 637, 'Run de contrôle', fontsize=7.4, va='center')
ov.plot([225, 256], [647, 647], color='black', lw=3.5, solid_capstyle='butt')
ov.text(265, 647, 'Run GFS', fontsize=7.4, va='center')
ov.scatter([60], [659], s=62, color='#8ccff2', edgecolor='#6ab8e6', linewidth=0.6)
ov.text(60, 659, '❄', family='DejaVu Sans', fontsize=7, color='#3f95d8', ha='center', va='center')
ov.text(75, 659, 'Risque neige', fontsize=7.4, va='center')
ov.text(340, 652, '30 Perts.', fontsize=7.4, va='center')
for i, c in enumerate(pert_colors):
    ov.add_patch(Rectangle((400 + 11 * i, 648), 10, 8, color=c, lw=0))
    ov.text(405 + 11 * i, 643, f'{i + 1:02d}', fontsize=5.2, ha='center', va='center')

ov.add_patch(Rectangle((21, 667), 418, 31, fill=False, edgecolor='black', lw=1.2))
ov.text(30, 678, 'Diagramme des ensembles GEFS sur 384h pour Adapazari', fontsize=8.2,
        fontweight='bold', va='center')
ov.text(30, 692, 'Températures 850hPa et 500hPa (°C) , précipitations (mm)', fontsize=7.1,
        va='center')
ov.text(449, 676, 'Ensemble GEFS du 26/12/2025 - 00Z', fontsize=7.3, va='center')
ov.text(449, 692, 'Copyright 2025 Meteociel.fr', fontsize=8.4, fontweight='bold', va='center')

fig.savefig('out.png', dpi=100)
